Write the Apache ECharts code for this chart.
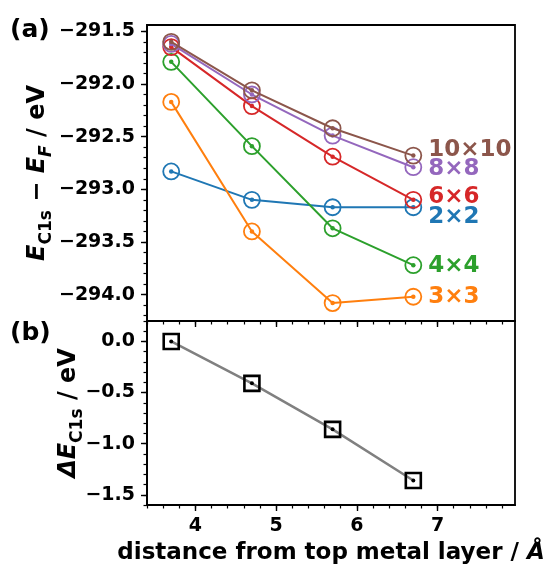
<!DOCTYPE html>
<html>
<head>
<meta charset="utf-8">
<script src="https://cdn.jsdelivr.net/npm/echarts@6/dist/echarts.min.js"></script>
<style>
  html, body { margin: 0; padding: 0; background: #fff; }
  #chart { width: 552px; height: 567px; }
</style>
</head>
<body>
<div id="chart"></div>
<script>
// Adsorption height of the molecule above the top metal layer (Å)
const distances = [3.7, 4.7, 5.7, 6.7];

// C1s level relative to the Fermi level (eV) for each supercell size
const cellNames = ['2×2', '3×3', '4×4', '6×6', '8×8', '10×10'];
const e2x2   = [-292.83, -293.10, -293.17, -293.17];
const e3x3   = [-292.17, -293.40, -294.08, -294.02];
const e4x4   = [-291.79, -292.59, -293.37, -293.72];
const e6x6   = [-291.65, -292.21, -292.69, -293.10];
const e8x8   = [-291.62, -292.10, -292.49, -292.79];
const e10x10 = [-291.60, -292.06, -292.42, -292.68];

// Shift of the C1s level with distance (eV)
const deltaE = [0.0, -0.41, -0.86, -1.36];

// Tick values
const xMajorTicks = [4, 5, 6, 7];
const topMajorTicks = [-294.0, -293.5, -293.0, -292.5, -292.0, -291.5];
const bottomMajorTicks = [-1.5, -1.0, -0.5, 0.0];

function steps(from, to, step) {
  const out = [];
  const n = Math.round((to - from) / step);
  for (let i = 0; i <= n; i++) out.push(+(from + i * step).toFixed(4));
  return out;
}
const xMinorTicks = steps(3.4, 7.8, 0.2);
const topMinorTicks = steps(-294.2, -291.5, 0.1);
const bottomMinorTicks = steps(-1.6, 0.2, 0.1);

const seriesValues = [e2x2, e3x3, e4x4, e6x6, e8x8, e10x10];
const colors = ['#1f77b4', '#ff7f0e', '#2ca02c', '#d62728', '#9467bd', '#8c564b'];
const labelOffsets = [[0, 10], [0, 0], [0, 1], [0, -3], [0, 2], [0, -6]];

const FONT = 'DejaVu Sans';
const minus = v => String(v).replace('-', '\u2212');

const X_MIN = 3.4, X_MAX = 7.96;
const TOP_MIN = -294.25, TOP_MAX = -291.44;
const BOT_MIN = -1.6, BOT_MAX = 0.2;

const tickLabel = { fontFamily: FONT, fontWeight: 'bold', fontSize: 19, color: '#000' };

function majorAxis(extra) {
  return Object.assign({
    type: 'value',
    nameMoveOverlap: false,
    axisLine: { show: true, onZero: false, lineStyle: { color: '#000', width: 1.8 } },
    axisTick: { show: true, inside: false, length: 6, lineStyle: { color: '#000', width: 1.4 } },
    splitLine: { show: false },
    minorTick: { show: false }
  }, extra);
}
function minorAxis(extra) {
  return Object.assign({
    type: 'value',
    axisLine: { show: false, onZero: false },
    axisLabel: { show: false },
    splitLine: { show: false },
    name: ''
  }, extra);
}

const xAxes = [
  majorAxis({ gridIndex: 0, position: 'bottom', min: X_MIN, max: X_MAX,
    axisTick: { show: true, length: 6, customValues: xMajorTicks, lineStyle: { color: '#000', width: 1.4 } },
    axisLabel: { show: false } }),
  minorAxis({ gridIndex: 0, position: 'bottom', min: X_MIN, max: X_MAX,
    axisTick: { show: true, length: 3.5, customValues: xMinorTicks, lineStyle: { color: '#000', width: 1.2 } } }),
  majorAxis({ gridIndex: 1, position: 'bottom', min: X_MIN, max: X_MAX,
    axisTick: { show: true, length: 6, customValues: xMajorTicks, lineStyle: { color: '#000', width: 1.4 } },
    axisLabel: Object.assign({ show: true, margin: 12, customValues: xMajorTicks }, tickLabel),
    name: '{t|distance from top metal layer / }{i|Å}',
    nameLocation: 'middle', nameGap: 37,
    nameTextStyle: { rich: {
      t: { fontFamily: FONT, fontWeight: 'bold', fontSize: 23, color: '#000' },
      i: { fontFamily: FONT, fontWeight: 'bold', fontStyle: 'italic', fontSize: 23, color: '#000' }
    } } }),
  minorAxis({ gridIndex: 1, position: 'bottom', min: X_MIN, max: X_MAX,
    axisTick: { show: true, length: 3.5, customValues: xMinorTicks, lineStyle: { color: '#000', width: 1.2 } } })
];

const subStyle = { fontFamily: FONT, fontWeight: 'bold', fontSize: 17, color: '#000', verticalAlign: 'bottom', padding: [0, 0, -5, 0] };
const yAxes = [
  majorAxis({ gridIndex: 0, position: 'left', min: TOP_MIN, max: TOP_MAX,
    axisTick: { show: true, length: 6, customValues: topMajorTicks, lineStyle: { color: '#000', width: 1.4 } },
    axisLabel: Object.assign({ show: true, margin: 12, customValues: topMajorTicks,
      formatter: v => minus(v.toFixed(1)) }, tickLabel),
    name: '{e|E}{s|C1s}{t| \u2212 }{e|E}{si|F}{t| / eV}',
    nameLocation: 'middle', nameGap: 97,
    nameTextStyle: { rich: {
      e: { fontFamily: FONT, fontWeight: 'bold', fontStyle: 'italic', fontSize: 24, color: '#000' },
      t: { fontFamily: FONT, fontWeight: 'bold', fontSize: 24, color: '#000' },
      s: subStyle,
      si: Object.assign({}, subStyle, { fontStyle: 'italic' })
    } } }),
  minorAxis({ gridIndex: 0, position: 'left', min: TOP_MIN, max: TOP_MAX,
    axisTick: { show: true, length: 3.5, customValues: topMinorTicks, lineStyle: { color: '#000', width: 1.2 } } }),
  majorAxis({ gridIndex: 1, position: 'left', min: BOT_MIN, max: BOT_MAX,
    axisTick: { show: true, length: 6, customValues: bottomMajorTicks, lineStyle: { color: '#000', width: 1.4 } },
    axisLabel: Object.assign({ show: true, margin: 12, customValues: bottomMajorTicks,
      formatter: v => minus(v.toFixed(1)) }, tickLabel),
    name: '{e|\u0394E}{s|C1s}{t| / eV}',
    nameLocation: 'middle', nameGap: 66,
    nameTextStyle: { rich: {
      e: { fontFamily: FONT, fontWeight: 'bold', fontStyle: 'italic', fontSize: 24, color: '#000' },
      t: { fontFamily: FONT, fontWeight: 'bold', fontSize: 24, color: '#000' },
      s: subStyle
    } } }),
  minorAxis({ gridIndex: 1, position: 'left', min: BOT_MIN, max: BOT_MAX,
    axisTick: { show: true, length: 3.5, customValues: bottomMinorTicks, lineStyle: { color: '#000', width: 1.2 } } })
];

const series = [];
seriesValues.forEach((vals, k) => {
  const pts = distances.map((d, i) => [d, vals[i]]);
  // connecting line with a small centre dot
  series.push({
    type: 'line', name: cellNames[k], xAxisIndex: 0, yAxisIndex: 0,
    data: pts, symbol: 'circle', symbolSize: 4.5, z: 2 + k,
    lineStyle: { color: colors[k], width: 2 },
    itemStyle: { color: colors[k], opacity: 1 },
    animation: false
  });
  // open ring markers, label at the last point
  series.push({
    type: 'scatter', name: cellNames[k] + ' ring', xAxisIndex: 0, yAxisIndex: 0,
    data: pts.map((p, i) => i === pts.length - 1 ? {
      value: p,
      label: { show: true, position: 'right', distance: 6, offset: labelOffsets[k],
        formatter: cellNames[k], fontFamily: FONT, fontWeight: 'bold', fontSize: 23, color: colors[k] }
    } : p),
    symbol: 'circle', symbolSize: 16, z: 2 + k,
    itemStyle: { color: 'rgba(0,0,0,0)', borderColor: colors[k], borderWidth: 1.8, opacity: 1 },
    animation: false
  });
});

series.push({
  type: 'line', name: 'shift', xAxisIndex: 2, yAxisIndex: 2,
  data: distances.map((d, i) => [d, deltaE[i]]),
  symbol: 'circle', symbolSize: 4, z: 2,
  lineStyle: { color: '#808080', width: 2.5 },
  itemStyle: { color: '#000', opacity: 1 },
  animation: false
});
series.push({
  type: 'scatter', name: 'shift marker', xAxisIndex: 2, yAxisIndex: 2,
  data: distances.map((d, i) => [d, deltaE[i]]),
  symbol: 'rect', symbolSize: 15, z: 3,
  itemStyle: { color: 'rgba(0,0,0,0)', borderColor: '#000', borderWidth: 2.6, opacity: 1 },
  animation: false
});

const chart = echarts.init(document.getElementById('chart'), null, { renderer: 'canvas' });
chart.setOption({
  backgroundColor: '#fff',
  animation: false,
  grid: [
    { left: 147, top: 25, width: 368, height: 296, show: true, borderColor: '#000', borderWidth: 1.8, backgroundColor: 'transparent' },
    { left: 147, top: 321, width: 368, height: 184, show: true, borderColor: '#000', borderWidth: 1.8, backgroundColor: 'transparent' }
  ],
  xAxis: xAxes,
  yAxis: yAxes,
  series: series,
  graphic: [
    { type: 'text', left: 10, top: 18, style: { text: '(a)', fontFamily: FONT, fontWeight: 'bold', fontSize: 25, fill: '#000' } },
    { type: 'text', left: 10, top: 321, style: { text: '(b)', fontFamily: FONT, fontWeight: 'bold', fontSize: 25, fill: '#000' } }
  ]
});
</script>
</body>
</html>
